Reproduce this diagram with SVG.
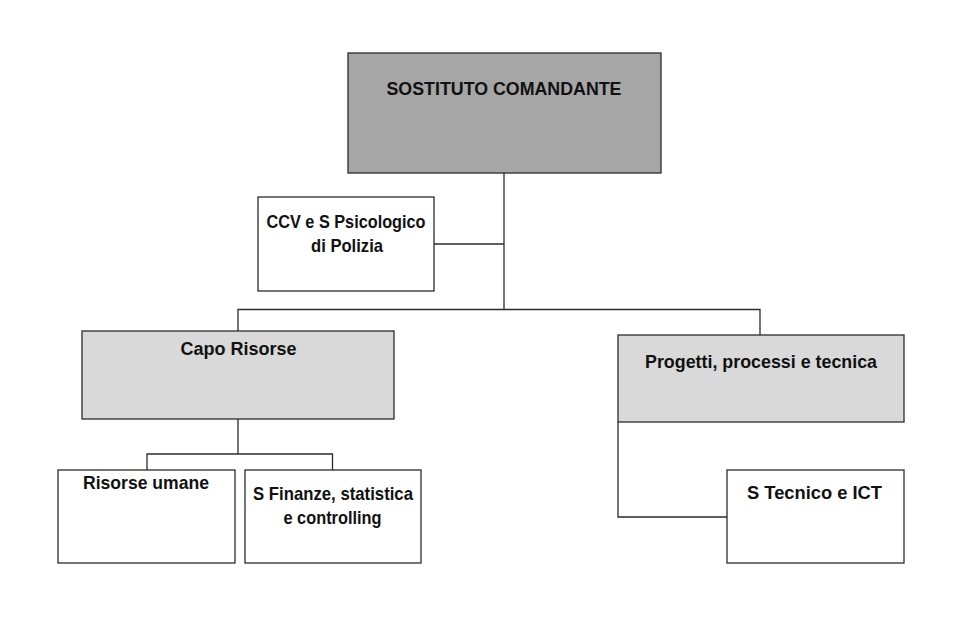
<svg xmlns="http://www.w3.org/2000/svg" width="960" height="634" viewBox="0 0 960 634">
<style>
.box{stroke:#2b2b2b;stroke-width:1.3}
.dark{fill:#a6a6a6}
.light{fill:#d9d9d9}
.white{fill:#ffffff}
.lbl{font-family:"Liberation Sans",Arial,sans-serif;font-weight:bold;font-size:19px;fill:#111;text-anchor:middle}
.conn{fill:none;stroke:#2b2b2b;stroke-width:1.3}
</style>
<rect width="960" height="634" fill="#ffffff"/>
<g id="connectors">
<path class="conn" d="M504,173V309"/>
<path class="conn" d="M434,244H504"/>
<path class="conn" d="M238,331V309.5H760V335"/>
<path class="conn" d="M238,419V454"/>
<path class="conn" d="M147,470V454H332.5V470"/>
<path class="conn" d="M618,422V517H727"/>
</g>
<g id="sostituto">
<rect class="box dark" x="348" y="53" width="313" height="120"/>
<text class="lbl" x="504" y="95" font-size="20" textLength="235" lengthAdjust="spacingAndGlyphs">SOSTITUTO COMANDANTE</text>
</g>
<g id="ccv">
<rect class="box white" x="258" y="197" width="176" height="94"/>
<text class="lbl" x="346" y="228" textLength="159" lengthAdjust="spacingAndGlyphs">CCV e S Psicologico</text>
<text class="lbl" x="347" y="252" textLength="72" lengthAdjust="spacingAndGlyphs">di Polizia</text>
</g>
<g id="capo-risorse">
<rect class="box light" x="82" y="331" width="312" height="88"/>
<text class="lbl" x="238.5" y="354.5" textLength="116" lengthAdjust="spacingAndGlyphs">Capo Risorse</text>
</g>
<g id="progetti">
<rect class="box light" x="618" y="335" width="286" height="87"/>
<text class="lbl" x="761" y="368" textLength="232" lengthAdjust="spacingAndGlyphs">Progetti, processi e tecnica</text>
</g>
<g id="risorse-umane">
<rect class="box white" x="58" y="470" width="177" height="93"/>
<text class="lbl" x="146" y="489" textLength="126" lengthAdjust="spacingAndGlyphs">Risorse umane</text>
</g>
<g id="finanze">
<rect class="box white" x="245" y="470" width="176" height="93"/>
<text class="lbl" x="333" y="500" textLength="160" lengthAdjust="spacingAndGlyphs">S Finanze, statistica</text>
<text class="lbl" x="332.5" y="524" textLength="98" lengthAdjust="spacingAndGlyphs">e controlling</text>
</g>
<g id="tecnico-ict">
<rect class="box white" x="727" y="470" width="177" height="93"/>
<text class="lbl" x="814.5" y="499" textLength="135" lengthAdjust="spacingAndGlyphs">S Tecnico e ICT</text>
</g>
</svg>
